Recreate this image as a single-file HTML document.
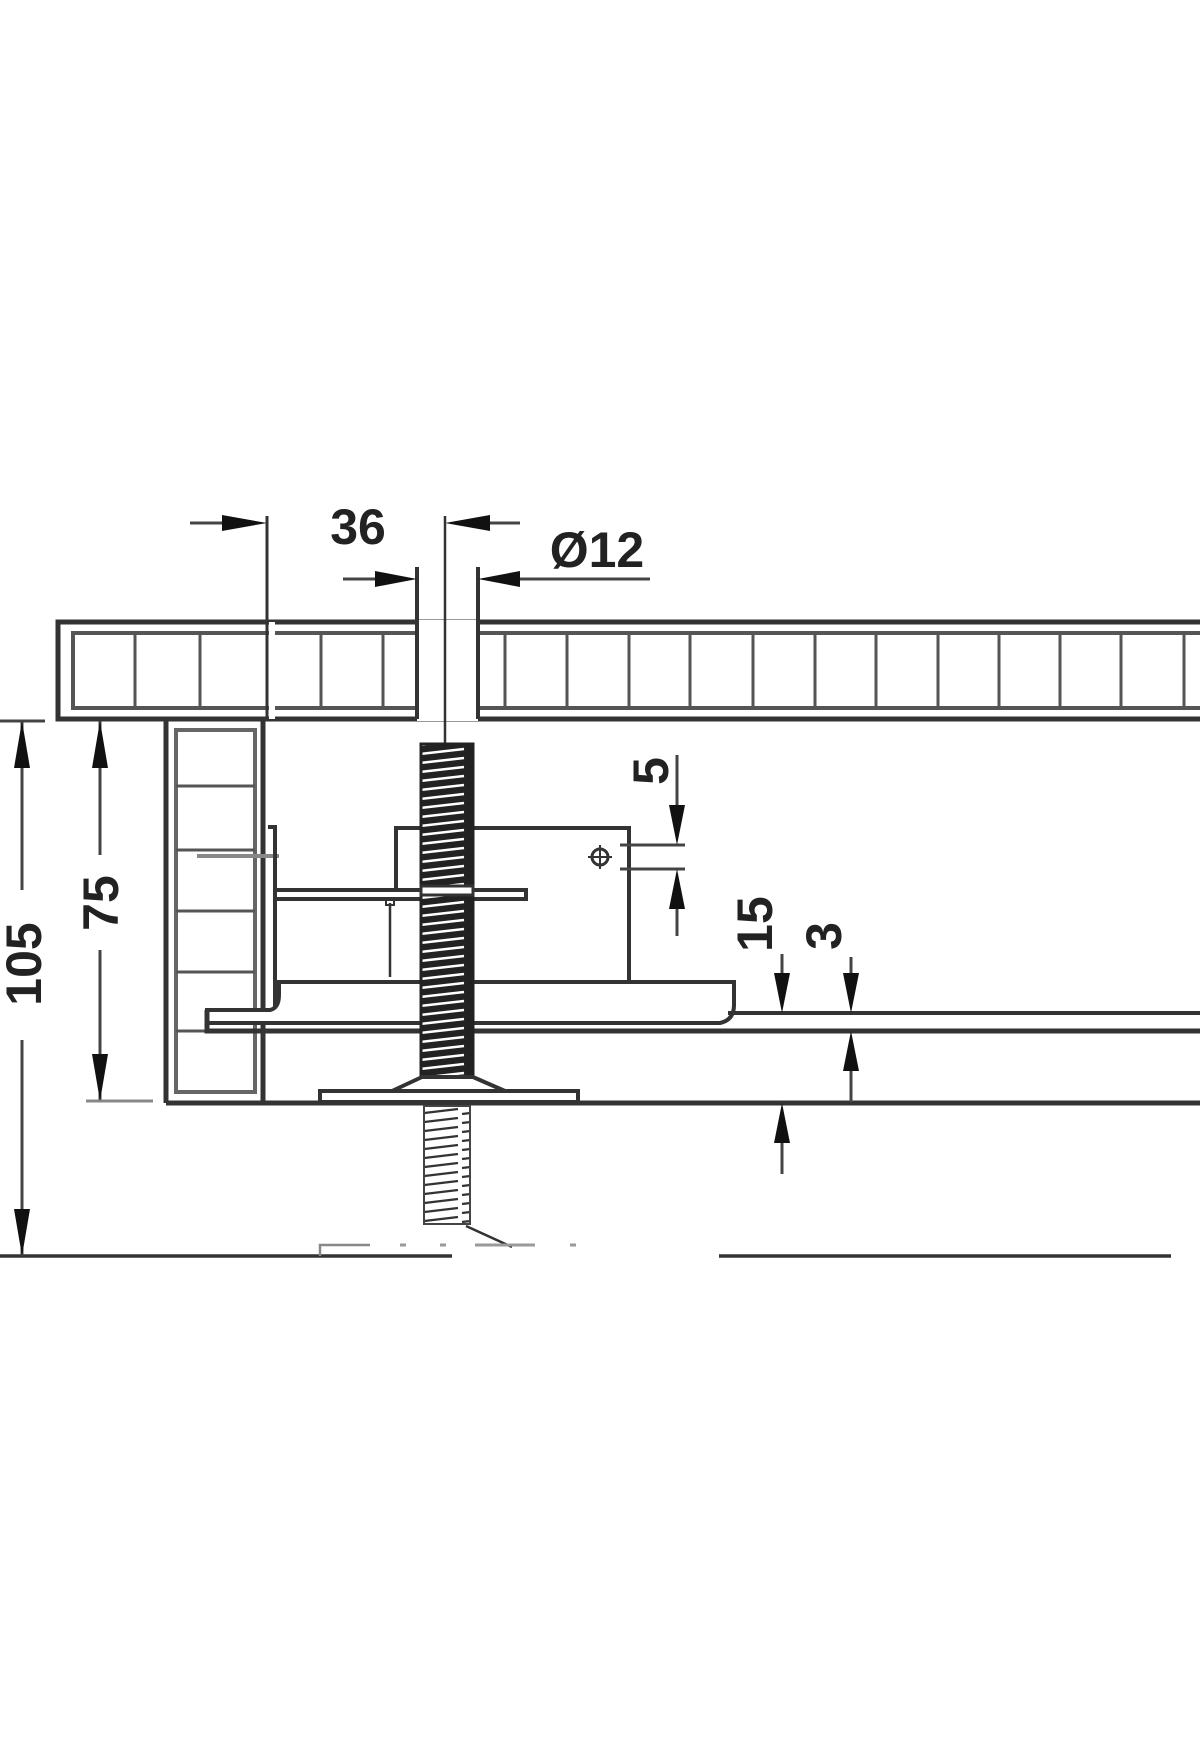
<!DOCTYPE html>
<html><head><meta charset="utf-8"><style>
html,body{margin:0;padding:0;background:#fff;}
svg{display:block;}
text{font-family:"Liberation Sans",Arial,sans-serif;font-weight:bold;fill:#222;}
</style></head><body>
<svg width="1200" height="1760" viewBox="0 0 1200 1760" xmlns="http://www.w3.org/2000/svg">
<defs>
<pattern id="thr" width="52" height="9" patternUnits="userSpaceOnUse">
<rect width="52" height="9" fill="#222"/>
<line x1="4" y1="7" x2="48" y2="2" stroke="#fff" stroke-width="2.6"/>
</pattern>
<pattern id="thr2" width="46" height="9" patternUnits="userSpaceOnUse">
<rect width="46" height="9" fill="#fff"/>
<line x1="2" y1="7" x2="44" y2="2" stroke="#333" stroke-width="2.2"/>
</pattern>
</defs>
<g stroke="#333" fill="none">
<!-- top board -->
<rect x="58" y="622" width="1160" height="97" stroke-width="5"/>
<rect x="73" y="633" width="1140" height="75" stroke="#555" stroke-width="4"/>
<g stroke="#555" stroke-width="3">
<line x1="135" y1="633" x2="135" y2="708"/><line x1="200" y1="633" x2="200" y2="708"/>
<line x1="321" y1="633" x2="321" y2="708"/><line x1="383" y1="633" x2="383" y2="708"/>
<line x1="505" y1="633" x2="505" y2="708"/><line x1="567" y1="633" x2="567" y2="708"/>
<line x1="629" y1="633" x2="629" y2="708"/><line x1="690" y1="633" x2="690" y2="708"/>
<line x1="753" y1="633" x2="753" y2="708"/><line x1="815" y1="633" x2="815" y2="708"/>
<line x1="876" y1="633" x2="876" y2="708"/><line x1="938" y1="633" x2="938" y2="708"/>
<line x1="999" y1="633" x2="999" y2="708"/><line x1="1060" y1="633" x2="1060" y2="708"/>
<line x1="1121" y1="633" x2="1121" y2="708"/><line x1="1184" y1="633" x2="1184" y2="708"/>
</g>
<rect x="417" y="620" width="61" height="101" fill="#fff" stroke="none"/>
<line x1="417" y1="567" x2="417" y2="719" stroke-width="4"/>
<line x1="478" y1="567" x2="478" y2="719" stroke-width="4"/>
<line x1="272" y1="622" x2="272" y2="719" stroke="#fff" stroke-width="6"/>
<line x1="267" y1="516" x2="267" y2="719" stroke-width="3"/>
<line x1="445" y1="516" x2="445" y2="745" stroke-width="2.5"/>
<!-- side panel -->
<line x1="166" y1="719" x2="166" y2="1103" stroke-width="5"/>
<line x1="263" y1="719" x2="263" y2="1103" stroke-width="5"/>
<rect x="176" y="730" width="79" height="362" stroke="#666" stroke-width="4"/>
<g stroke="#555" stroke-width="3">
<line x1="176" y1="786" x2="255" y2="786"/><line x1="176" y1="850" x2="255" y2="850"/>
<line x1="176" y1="911" x2="255" y2="911"/><line x1="176" y1="972" x2="255" y2="972"/>
<line x1="176" y1="1031" x2="255" y2="1031"/>
</g>
<line x1="197" y1="856" x2="279" y2="856" stroke="#888" stroke-width="4"/>
<!-- carcass bottom -->
<line x1="166" y1="1103" x2="1200" y2="1103" stroke-width="5"/>
<!-- bracket -->
<path d="M268 827 H275 V1021" stroke-width="4"/>
<rect x="275" y="890" width="251" height="9" stroke-width="4" fill="#fff"/>
<path d="M396 890 V828 H629 V982" stroke-width="4"/>
<line x1="390" y1="903" x2="390" y2="977" stroke-width="2.5"/>
<rect x="386" y="899" width="8" height="6" stroke-width="2"/>
<!-- tray and rail -->
<path d="M207 1010 H270 Q279 1008 279 995 V982 H734 V1005 Q734 1020 720 1023 H207 Z" stroke-width="4" fill="#fff"/>
<path d="M207 1010 V1031 H1200" stroke-width="5"/>
<path d="M728 1013 H1200" stroke-width="4"/>
<!-- bolt -->
<rect x="421" y="744" width="52" height="340" fill="url(#thr)" stroke="#222" stroke-width="3"/>
<rect x="421" y="886" width="52" height="9" fill="#fff" stroke="#333" stroke-width="3"/>
<rect x="421" y="982" width="52" height="41" fill="none" stroke="none"/>
<path d="M422 1077 L392 1091 H505 L473 1077 Z" stroke-width="4" fill="#fff"/>
<rect x="320" y="1091" width="258" height="11" stroke-width="4" fill="#fff"/>
<rect x="424" y="1106" width="46" height="118" fill="url(#thr2)" stroke="#444" stroke-width="2"/>
<path d="M466 1226 L512 1247" stroke-width="2.5"/>
<!-- hole -->
<circle cx="600" cy="857" r="8" stroke-width="3"/>
<line x1="588" y1="857" x2="612" y2="857" stroke-width="2"/>
<line x1="600" y1="845" x2="600" y2="869" stroke-width="2"/>
<!-- floor -->
<path d="M0 1256 H452" stroke-width="3.5"/>
<path d="M320 1256 V1245 H370" stroke="#888" stroke-width="2.5"/>
<path d="M719 1256 H1171" stroke-width="3.5"/>
<path d="M475 1245 H535 M400 1245 h6 M440 1245 h6 M570 1245 h6" stroke="#999" stroke-width="3"/>
<!-- dimension lines -->
<g stroke="#444" stroke-width="3">
<line x1="190" y1="523" x2="255" y2="523"/>
<line x1="458" y1="523" x2="520" y2="523"/>
<line x1="343" y1="579" x2="405" y2="579"/>
<line x1="490" y1="579" x2="650" y2="579"/>
<line x1="22" y1="721" x2="22" y2="890"/><line x1="22" y1="1040" x2="22" y2="1256"/>
<line x1="0" y1="721" x2="45" y2="721"/>
<line x1="100" y1="721" x2="100" y2="855"/><line x1="100" y1="950" x2="100" y2="1101"/>
<line x1="86" y1="1101" x2="153" y2="1101" stroke="#888"/>
<line x1="677" y1="755" x2="677" y2="836"/><line x1="677" y1="878" x2="677" y2="936"/>
<line x1="620" y1="845" x2="685" y2="845"/><line x1="620" y1="869" x2="685" y2="869"/>
<line x1="782" y1="954" x2="782" y2="1005"/><line x1="782" y1="1110" x2="782" y2="1174"/>
<line x1="851" y1="957" x2="851" y2="1005"/><line x1="851" y1="1040" x2="851" y2="1102"/>
</g>
</g>
<g fill="#111">
<polygon points="267,523 222,515 222,531"/>
<polygon points="445,523 490,515 490,531"/>
<polygon points="417,579 375,571 375,587"/>
<polygon points="478,579 520,571 520,587"/>
<polygon points="22,721 14,768 30,768"/>
<polygon points="22,1256 14,1209 30,1209"/>
<polygon points="100,721 92,768 108,768"/>
<polygon points="100,1101 92,1054 108,1054"/>
<polygon points="677,845 669,805 685,805"/>
<polygon points="677,869 669,909 685,909"/>
<polygon points="782,1013 774,973 790,973"/>
<polygon points="782,1103 774,1143 790,1143"/>
<polygon points="851,1013 843,973 859,973"/>
<polygon points="851,1031 843,1071 859,1071"/>
</g>
<g font-size="50">
<text x="358" y="544" text-anchor="middle">36</text>
<text x="597" y="567" text-anchor="middle">Ø12</text>
<text transform="translate(41,964) rotate(-90)" text-anchor="middle">105</text>
<text transform="translate(118,903) rotate(-90)" text-anchor="middle">75</text>
<text transform="translate(668,771) rotate(-90)" text-anchor="middle">5</text>
<text transform="translate(772,924) rotate(-90)" text-anchor="middle">15</text>
<text transform="translate(841,936) rotate(-90)" text-anchor="middle">3</text>
</g>
</svg>
</body></html>
